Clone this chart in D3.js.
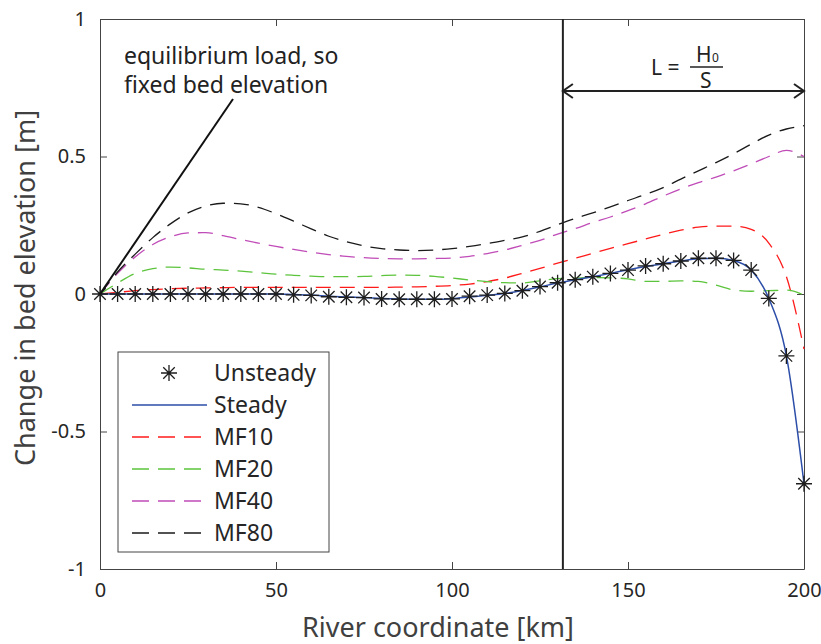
<!DOCTYPE html>
<html>
<head>
<meta charset="UTF-8">
<script src="https://cdn.jsdelivr.net/npm/d3@7"></script>
<style>
  body { margin: 0; background: #fff; }
  text { font-family: 'Noto Sans', 'Open Sans', sans-serif; }
</style>
</head>
<body>
<svg id="chart" width="821" height="644"></svg>
<script>
// river coordinate [km], every 5 km
var km = d3.range(0, 201, 5);

var unsteady = [0, 0, 0, 0, 0, 0, 0, 0, 0, 0, 0, -0.003, -0.005, -0.01, -0.012, -0.013, -0.018, -0.019, -0.019, -0.019,
  -0.018, -0.008, -0.004, 0.002, 0.012, 0.027, 0.041, 0.052, 0.063, 0.075, 0.087, 0.102, 0.11, 0.12, 0.13, 0.13,
  0.122, 0.087, -0.016, -0.225, -0.69];
var steady = [0, 0, 0, 0, 0, 0, 0, 0, 0, 0, 0, -0.002, -0.004, -0.008, -0.011, -0.013, -0.016, -0.018, -0.019, -0.019,
  -0.017, -0.011, -0.005, 0.002, 0.013, 0.026, 0.04, 0.052, 0.063, 0.075, 0.088, 0.1, 0.11, 0.12, 0.128, 0.13,
  0.122, 0.087, -0.016, -0.225, -0.69];
var mf10 = [0, 0.006, 0.012, 0.016, 0.019, 0.021, 0.022, 0.023, 0.024, 0.024, 0.024, 0.024, 0.024, 0.024, 0.024, 0.024,
  0.024, 0.025, 0.026, 0.028, 0.031, 0.036, 0.045, 0.058, 0.075, 0.093, 0.112, 0.13, 0.148, 0.166, 0.183, 0.2,
  0.217, 0.232, 0.243, 0.247, 0.247, 0.235, 0.185, 0.063, -0.2];
var mf20 = [0, 0.04, 0.075, 0.092, 0.098, 0.095, 0.09, 0.087, 0.083, 0.078, 0.072, 0.068, 0.065, 0.063, 0.063, 0.064,
  0.067, 0.069, 0.068, 0.064, 0.058, 0.051, 0.045, 0.041, 0.04, 0.048, 0.056, 0.058, 0.06, 0.059, 0.055, 0.046,
  0.046, 0.048, 0.046, 0.032, 0.015, 0.01, 0.012, 0.014, -0.004];
var mf40 = [0, 0.075, 0.135, 0.18, 0.208, 0.222, 0.223, 0.212, 0.198, 0.185, 0.173, 0.162, 0.152, 0.143, 0.137, 0.132,
  0.129, 0.128, 0.128, 0.129, 0.131, 0.137, 0.147, 0.16, 0.177, 0.195, 0.218, 0.238, 0.26, 0.28, 0.303, 0.328,
  0.356, 0.382, 0.405, 0.425, 0.448, 0.473, 0.5, 0.522, 0.5];
var mf80 = [0, 0.08, 0.145, 0.205, 0.255, 0.295, 0.32, 0.33, 0.328, 0.315, 0.292, 0.265, 0.237, 0.21, 0.19, 0.175,
  0.165, 0.16, 0.158, 0.16, 0.165, 0.173, 0.183, 0.195, 0.208, 0.228, 0.252, 0.275, 0.295, 0.317, 0.34, 0.362,
  0.387, 0.418, 0.448, 0.478, 0.51, 0.545, 0.578, 0.6, 0.612];

var xTicks = [0, 50, 100, 150, 200];
var yTicks = [-1, -0.5, 0, 0.5, 1];
var legendNames = ["Unsteady", "Steady", "MF10", "MF20", "MF40", "MF80"];
var boundaryKm = 131.5;

var plotLeft = 100, plotRight = 804, plotTop = 19, plotBottom = 569;
var svg = d3.select("#chart");

var x = d3.scaleLinear().domain([0, 200]).range([plotLeft, plotRight]);
var y = d3.scaleLinear().domain([-1, 1]).range([plotBottom, plotTop]);

var dash = "15,9";
var series = [
  { name: "MF10", values: mf10, color: "#ff1a1a" },
  { name: "MF20", values: mf20, color: "#5cc43c" },
  { name: "MF40", values: mf40, color: "#c04cb8" },
  { name: "MF80", values: mf80, color: "#1a1a1a" }
];

var line = d3.line()
  .x(function (d) { return x(d[0]); })
  .y(function (d) { return y(d[1]); })
  .curve(d3.curveMonotoneX);

// axes: bottom / top / left / right with inward ticks
function styleAxis(g) {
  g.selectAll("path").attr("stroke", "#444");
  g.selectAll("line").attr("stroke", "#444");
  g.selectAll("text").attr("fill", "#262626").style("font-size", "20px");
}
svg.append("g").attr("transform", "translate(0," + plotBottom + ")")
  .call(d3.axisBottom(x).tickValues(xTicks).tickSizeInner(-7).tickSizeOuter(0).tickPadding(14).tickFormat(function (d) { return String(d); }))
  .call(styleAxis);
svg.append("g").attr("transform", "translate(0," + plotTop + ")")
  .call(d3.axisTop(x).tickValues(xTicks).tickSizeInner(-7).tickSizeOuter(0).tickFormat(""))
  .call(styleAxis);
svg.append("g").attr("transform", "translate(" + plotLeft + ",0)")
  .call(d3.axisLeft(y).tickValues(yTicks).tickSizeInner(-7).tickSizeOuter(0).tickPadding(14).tickFormat(function (d) { return String(d); }))
  .call(styleAxis);
svg.append("g").attr("transform", "translate(" + plotRight + ",0)")
  .call(d3.axisRight(y).tickValues(yTicks).tickSizeInner(-7).tickSizeOuter(0).tickFormat(""))
  .call(styleAxis);

// axis labels
svg.append("text").attr("x", 438).attr("y", 637).attr("text-anchor", "middle")
  .attr("fill", "#404040").style("font-size", "27px").text("River coordinate [km]");
svg.append("text").attr("transform", "translate(35,288) rotate(-90)").attr("text-anchor", "middle")
  .attr("fill", "#404040").style("font-size", "27px").text("Change in bed elevation [m]");

// model series
series.forEach(function (s) {
  svg.append("path")
    .datum(km.map(function (k, i) { return [k, s.values[i]]; }))
    .attr("d", line)
    .attr("fill", "none")
    .attr("stroke", s.color)
    .attr("stroke-width", 1.3)
    .attr("stroke-dasharray", dash);
});

// steady solution
svg.append("path")
  .datum(km.map(function (k, i) { return [k, steady[i]]; }))
  .attr("d", line)
  .attr("fill", "none")
  .attr("stroke", "#2c4ea8")
  .attr("stroke-width", 1.5);

// asterisk marker
function star(r) {
  var a = r * 0.72;
  return "M" + (-r) + ",0L" + r + ",0M0," + (-r) + "L0," + r +
    "M" + (-a) + "," + (-a) + "L" + a + "," + a + "M" + (-a) + "," + a + "L" + a + "," + (-a);
}
svg.append("g").selectAll("path")
  .data(km.map(function (k, i) { return [k, unsteady[i]]; }))
  .enter().append("path")
  .attr("transform", function (d) { return "translate(" + x(d[0]) + "," + y(d[1]) + ")"; })
  .attr("d", star(8))
  .attr("fill", "none")
  .attr("stroke", "#1e1e1e")
  .attr("stroke-width", 1.3);

// boundary line
svg.append("line")
  .attr("x1", x(boundaryKm)).attr("x2", x(boundaryKm))
  .attr("y1", plotTop).attr("y2", plotBottom)
  .attr("stroke", "#222").attr("stroke-width", 2);

// L = H0/S arrow
var ay = 91;
var ax1 = x(boundaryKm), ax2 = x(200);
svg.append("line").attr("x1", ax1).attr("x2", ax2).attr("y1", ay).attr("y2", ay)
  .attr("stroke", "#222").attr("stroke-width", 2);
svg.append("path")
  .attr("d", "M" + (ax1 + 10) + "," + (ay - 7) + "L" + ax1 + "," + ay + "L" + (ax1 + 10) + "," + (ay + 7) +
    "M" + (ax2 - 10) + "," + (ay - 7) + "L" + ax2 + "," + ay + "L" + (ax2 - 10) + "," + (ay + 7))
  .attr("fill", "none").attr("stroke", "#222").attr("stroke-width", 2);
svg.append("text").attr("x", 651).attr("y", 75).attr("fill", "#222").style("font-size", "21px").text("L =");
svg.append("line").attr("x1", 690).attr("x2", 723).attr("y1", 67).attr("y2", 67)
  .attr("stroke", "#222").attr("stroke-width", 1.5);
svg.append("text").attr("x", 696).attr("y", 62).attr("fill", "#222").style("font-size", "21px").text("H");
svg.append("text").attr("x", 712).attr("y", 62).attr("fill", "#222").style("font-size", "12px").text("0");
svg.append("text").attr("x", 700).attr("y", 88).attr("fill", "#222").style("font-size", "21px").text("S");

// equilibrium annotation
svg.append("line").attr("x1", x(0)).attr("y1", y(0)).attr("x2", 233).attr("y2", 99)
  .attr("stroke", "#111").attr("stroke-width", 2);
svg.append("text").attr("x", 124).attr("y", 64).attr("fill", "#222").style("font-size", "23px").text("equilibrium load, so");
svg.append("text").attr("x", 124).attr("y", 93).attr("fill", "#222").style("font-size", "23px").text("fixed bed elevation");

// legend
var lg = svg.append("g");
lg.append("rect").attr("x", 118).attr("y", 352).attr("width", 211).attr("height", 200)
  .attr("fill", "#fff").attr("stroke", "#444").attr("stroke-width", 1);
var legendStyle = [
  { color: "#1e1e1e", marker: true },
  { color: "#2c4ea8", dash: null },
  { color: "#ff1a1a", dash: dash },
  { color: "#5cc43c", dash: dash },
  { color: "#c04cb8", dash: dash },
  { color: "#1a1a1a", dash: dash }
];
legendNames.forEach(function (name, i) {
  var cy = 373 + i * 32;
  var st = legendStyle[i];
  if (st.marker) {
    lg.append("path").attr("transform", "translate(169," + cy + ")").attr("d", star(8))
      .attr("fill", "none").attr("stroke", st.color).attr("stroke-width", 1.3);
  } else {
    lg.append("line").attr("x1", 132).attr("x2", 207).attr("y1", cy).attr("y2", cy)
      .attr("stroke", st.color).attr("stroke-width", 1.3)
      .attr("stroke-dasharray", st.dash ? "17,9" : null);
  }
  lg.append("text").attr("x", 214).attr("y", cy + 8).attr("fill", "#262626")
    .style("font-size", "23px").text(name);
});
</script>
</body>
</html>
